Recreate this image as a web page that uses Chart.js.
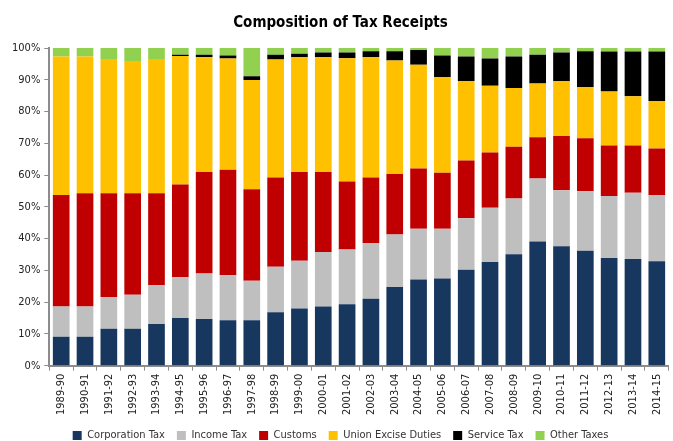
<!DOCTYPE html>
<html>
<head>
<meta charset="utf-8">
<script src="https://cdn.jsdelivr.net/npm/chart.js@4"></script>
<style>
  html, body { margin: 0; padding: 0; background: #fff; }
  #wrap { width: 673px; height: 441px; }
</style>
</head>
<body>
<div id="wrap"><canvas id="taxChart"></canvas></div>
<script>
const years = ['1989-90', '1990-91', '1991-92', '1992-93', '1993-94', '1994-95', '1995-96', '1996-97', '1997-98',
    '1998-99', '1999-00', '2000-01', '2001-02', '2002-03', '2003-04', '2004-05', '2005-06', '2006-07',
    '2007-08', '2008-09', '2009-10', '2010-11', '2011-12', '2012-13', '2013-14', '2014-15'];

// shares in % of total receipts
const corporationTax = [9.1, 9.1, 11.6, 11.6, 13.1, 15.0, 14.7, 14.3, 14.3, 16.8, 18.0, 18.6, 19.3, 21.1, 24.8, 27.1, 27.4, 30.2, 32.6, 35.1, 39.1, 37.6, 36.2, 33.9, 33.6, 32.9];
const incomeTax = [9.5, 9.5, 10.0, 10.7, 12.2, 12.8, 14.3, 14.2, 12.4, 14.3, 15.0, 17.2, 17.3, 17.4, 16.5, 16.0, 15.7, 16.2, 17.1, 17.5, 19.8, 17.6, 18.7, 19.5, 20.8, 20.8];
const customs = [35.1, 35.7, 32.7, 32.0, 29.0, 29.2, 32.0, 33.2, 28.8, 28.1, 28.0, 25.2, 21.4, 20.7, 19.0, 19.0, 17.6, 18.2, 17.4, 16.3, 13.0, 17.1, 16.7, 15.9, 14.9, 14.7];
const exciseDuties = [43.6, 43.0, 42.2, 41.6, 42.2, 40.5, 36.1, 35.0, 34.4, 37.2, 36.1, 36.1, 38.8, 37.9, 35.8, 32.6, 30.2, 25.0, 21.0, 18.5, 16.9, 17.2, 16.1, 17.0, 15.5, 14.9];
const serviceTax = [0, 0, 0, 0, 0, 0.4, 0.8, 0.9, 1.2, 1.5, 1.1, 1.5, 1.8, 1.9, 2.9, 4.7, 6.7, 7.7, 8.6, 9.9, 9.1, 9.1, 11.3, 12.6, 14.1, 15.6];
const otherTaxes = [2.7, 2.7, 3.5, 4.1, 3.5, 2.1, 2.1, 2.4, 8.9, 2.1, 1.8, 1.4, 1.4, 1.0, 1.0, 0.6, 2.4, 2.7, 3.3, 2.7, 2.1, 1.4, 1.0, 1.1, 1.1, 1.1];

const fuente = "'DejaVu Sans Condensed', 'Liberation Sans Narrow', 'Liberation Sans', sans-serif";
const ejeColor = '#8c8c8c';

const series = [
    { label: 'Corporation Tax', data: corporationTax, color: '#17375E' },
    { label: 'Income Tax', data: incomeTax, color: '#BFBFBF' },
    { label: 'Customs', data: customs, color: '#C00000' },
    { label: 'Union Excise Duties', data: exciseDuties, color: '#FFC000' },
    { label: 'Service Tax', data: serviceTax, color: '#000000' },
    { label: 'Other Taxes', data: otherTaxes, color: '#92D050' }
];

new Chart(document.getElementById('taxChart'), {
    type: 'bar',
    data: {
        labels: years,
        datasets: series.map(s => ({
            label: s.label,
            data: s.data,
            backgroundColor: s.color,
            borderWidth: 0,
            barPercentage: 1,
            categoryPercentage: 0.7
        }))
    },
    options: {
        responsive: true,
        maintainAspectRatio: false,
        animation: false,
        layout: { padding: { left: 8, right: 0, top: 0, bottom: -10 } },
        plugins: {
            title: {
                display: true,
                text: 'Composition of Tax Receipts',
                color: '#000',
                font: { family: fuente, size: 15, weight: 'bold' },
                padding: { top: 14, bottom: 16 }
            },
            legend: {
                position: 'bottom',
                labels: {
                    color: '#333',
                    font: { family: fuente, size: 11 },
                    boxWidth: 9,
                    boxHeight: 9,
                    padding: 12
                }
            },
            tooltip: { enabled: false }
        },
        scales: {
            x: {
                stacked: true,
                offset: true,
                border: { color: ejeColor, width: 2 },
                grid: { display: true, drawOnChartArea: false, offset: true, color: ejeColor, tickLength: 5 },
                ticks: {
                    color: '#222',
                    font: { family: fuente, size: 11 },
                    maxRotation: 90,
                    minRotation: 90,
                    autoSkip: false,
                    padding: 3
                }
            },
            y: {
                stacked: true,
                min: 0,
                max: 100,
                border: { color: ejeColor, width: 2 },
                grid: { display: true, drawOnChartArea: false, color: ejeColor, tickLength: 5 },
                ticks: {
                    stepSize: 10,
                    color: '#222',
                    font: { family: fuente, size: 11 },
                    padding: 4,
                    callback: v => v + '%'
                }
            }
        }
    }
});
</script>
</body>
</html>
